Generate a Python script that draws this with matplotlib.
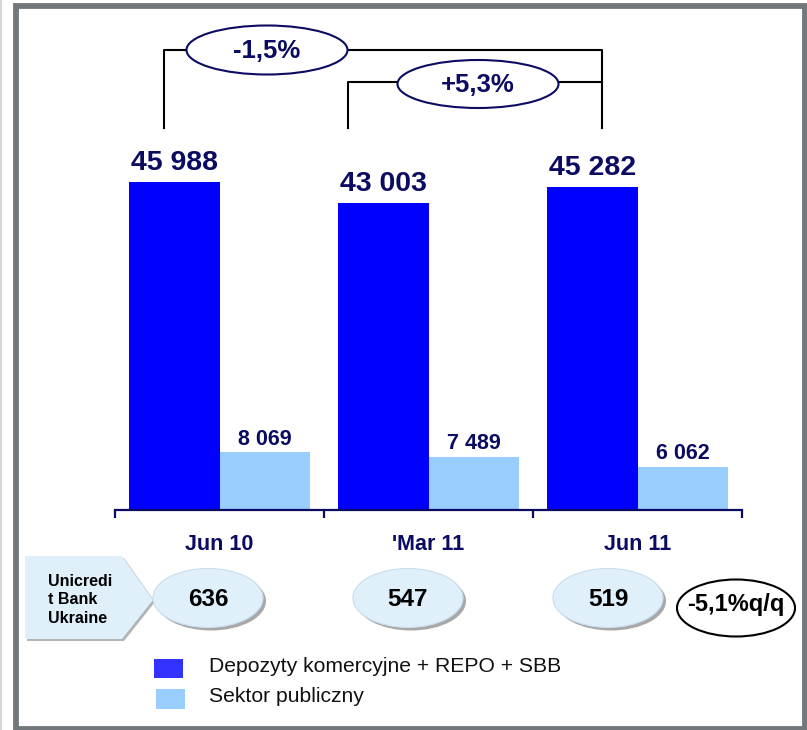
import matplotlib
matplotlib.use("Agg")
import matplotlib.pyplot as plt
from matplotlib.patches import Ellipse, Polygon, Rectangle
from matplotlib.lines import Line2D

plt.rcParams["font.family"] = ["Liberation Sans", "DejaVu Sans"]

# data
categories = ["Jun 10", "'Mar 11", "Jun 11"]
komercyjne = [45988, 43003, 45282]
publiczny = [8069, 7489, 6062]
headcount = [636, 547, 519]
change_long = "-1,5%"
change_short = "+5,3%"
change_qq = "-5,1%q/q"
series_names = ["Depozyty komercyjne + REPO + SBB", "Sektor publiczny"]

DARK = "#0000ff"
LIGHT = "#99ccff"
NAVY = "#0b0b62"

W, H = 807, 730
fig = plt.figure(figsize=(W / 100, H / 100), dpi=100)

# main bar axes (pixel box: x 115..742, y 20..510)
ax = fig.add_axes([115 / W, (H - 510) / H, 627 / W, 490 / H])
x = range(len(categories))
bw = 0.433
ax.bar([i - bw / 2 for i in x], komercyjne, width=bw, color=DARK, zorder=2)
ax.bar([i + bw / 2 for i in x], publiczny, width=bw, color=LIGHT, zorder=2)
ax.set_xlim(-0.5, 2.5)
ax.set_ylim(0, 68700)

fmt = lambda v: f"{v:,}".replace(",", " ")
for i, v in enumerate(komercyjne):
    ax.annotate(fmt(v), (i - bw / 2, v), xytext=(0, 8.5), textcoords="offset points",
                ha="center", va="baseline", fontsize=20.5, fontweight="bold", color=NAVY)
for i, v in enumerate(publiczny):
    ax.annotate(fmt(v), (i + bw / 2, v), xytext=(0, 5.5), textcoords="offset points",
                ha="center", va="baseline", fontsize=15.5, fontweight="bold", color=NAVY)

for s in ["top", "right", "left"]:
    ax.spines[s].set_visible(False)
ax.spines["bottom"].set_color(NAVY)
ax.spines["bottom"].set_linewidth(1.6)
ax.set_yticks([])
ax.set_xticks(list(x))
ax.set_xticklabels(categories, fontsize=15.5, fontweight="bold", color=NAVY)
ax.tick_params(axis="x", which="major", length=0, pad=17)
ax.set_xticks([-0.5, 0.5, 1.5, 2.5], minor=True)
ax.tick_params(axis="x", which="minor", length=5.5, width=1.6, color=NAVY, direction="out")

# overlay in pixel coordinates for annotations
ov = fig.add_axes([0, 0, 1, 1], zorder=5)
ov.set_xlim(0, W)
ov.set_ylim(H, 0)
ov.axis("off")
ov.patch.set_visible(False)

# brackets
lk = dict(color="black", lw=1.5)
ov.plot([164, 164, 602, 602], [128, 50, 50, 128], **lk)
ov.plot([348, 348, 602], [128, 82, 82], **lk)
for (cx, cy, w, h, txt) in [(267, 50, 161, 49, change_long), (478, 84, 161, 48, change_short)]:
    ov.add_patch(Ellipse((cx, cy), w, h, facecolor="white", edgecolor=NAVY, lw=1.5, zorder=3))
    ov.text(cx, cy + 1, txt, ha="center", va="center", fontsize=18.5, fontweight="bold",
            color=NAVY, zorder=4)

# bank label arrow
pent = [(25, 556), (122, 556), (153, 600), (122, 639), (25, 639)]
ov.add_patch(Polygon([(px + 2, py + 2) for px, py in pent], closed=True,
                     facecolor="#b4b4b4", edgecolor="none", zorder=2))
ov.add_patch(Polygon(pent, closed=True, facecolor="#dff0fb", edgecolor="none", zorder=3))
ov.text(48, 600, "Unicredi\nt Bank\nUkraine", ha="left", va="center", fontsize=11.5,
        fontweight="bold", color="black", linespacing=1.3, zorder=4)

# headcount ellipses
for j, n in enumerate(headcount):
    cx = 208 + 200 * j
    ov.add_patch(Ellipse((cx + 3, 601), 110, 59, facecolor="#a8a8a8", edgecolor="none", zorder=2))
    ov.add_patch(Ellipse((cx, 598), 110, 59, facecolor="#dff0fb", edgecolor="#c8dceb",
                         lw=0.8, zorder=3))
    ov.text(cx, 600, str(n), ha="center", va="center", fontsize=17.5, fontweight="bold",
            color="black", zorder=4)
ov.add_patch(Ellipse((736, 608), 118, 57, facecolor="white", edgecolor="black", lw=1.5, zorder=3))
ov.text(736, 605, change_qq, ha="center", va="center", fontsize=17, fontweight="bold",
        color="black", zorder=4)

# legend
ov.add_patch(Rectangle((154, 659), 29, 19, facecolor="#3333ff", edgecolor="none"))
ov.add_patch(Rectangle((156, 689), 29, 20, facecolor=LIGHT, edgecolor="none"))
ov.text(209, 667, series_names[0], ha="left", va="center", fontsize=15.2, color="#111111")
ov.text(209, 697, series_names[1], ha="left", va="center", fontsize=15.2, color="#111111")

# frame
ov.add_patch(Rectangle((16, 5.5), 788.5, 723, facecolor="none", edgecolor="#72777b", lw=4.2,
                       zorder=6))
ov.add_line(Line2D([1, 1], [0, H], color="#cfcfcf", lw=1.2))

fig.savefig("out.png", dpi=100)
